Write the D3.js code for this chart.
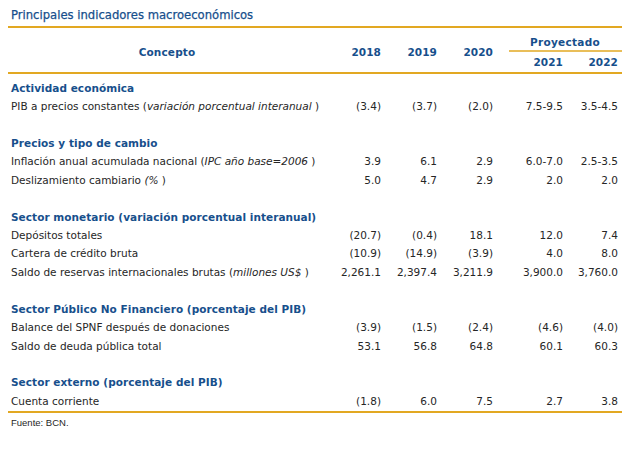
<!DOCTYPE html>
<html><head><meta charset="utf-8">
<script src="https://cdn.jsdelivr.net/npm/d3@7"></script>
<style>
html,body{margin:0;padding:0;background:#fff;}
svg{display:block;}
</style></head>
<body>
<script>
// ---- data ----
const title = "Principales indicadores macroeconómicos";
const headerConcept = "Concepto";
const historicYears = ["2018", "2019", "2020"];
const projectedYears = ["2021", "2022"];
const projectedLabel = "Proyectado";
const source = "Fuente: BCN.";

// row kinds: "s" = section heading, "r" = data row; label parts: [text, italic]
const rowSlots = [0, 1, 3, 4, 5, 7, 8, 9, 10, 12, 13, 14, 16, 17];
const rowKinds = ["s","r","s","r","r","s","r","r","r","s","r","r","s","r"];
const rowLabels = [
  [["Actividad económica", false]],
  [["PIB a precios constantes (", false], ["variación porcentual interanual", true], [" )", false]],
  [["Precios y tipo de cambio", false]],
  [["Inflación anual acumulada nacional (", false], ["IPC año base=2006", true], [" )", false]],
  [["Deslizamiento cambiario ", false], ["(%", true], [" )", false]],
  [["Sector monetario (variación porcentual interanual)", false]],
  [["Depósitos totales", false]],
  [["Cartera de crédito bruta", false]],
  [["Saldo de reservas internacionales brutas (", false], ["millones US$", true], [" )", false]],
  [["Sector Público No Financiero (porcentaje del PIB)", false]],
  [["Balance del SPNF después de donaciones", false]],
  [["Saldo de deuda pública total", false]],
  [["Sector externo (porcentaje del PIB)", false]],
  [["Cuenta corriente", false]]
];
const v2018 = [null,"(3.4)",null,"3.9","5.0",null,"(20.7)","(10.9)","2,261.1",null,"(3.9)","53.1",null,"(1.8)"];
const v2019 = [null,"(3.7)",null,"6.1","4.7",null,"(0.4)","(14.9)","2,397.4",null,"(1.5)","56.8",null,"6.0"];
const v2020 = [null,"(2.0)",null,"2.9","2.9",null,"18.1","(3.9)","3,211.9",null,"(2.4)","64.8",null,"7.5"];
const v2021 = [null,"7.5-9.5",null,"6.0-7.0","2.0",null,"12.0","4.0","3,900.0",null,"(4.6)","60.1",null,"2.7"];
const v2022 = [null,"3.5-4.5",null,"2.5-3.5","2.0",null,"7.4","8.0","3,760.0",null,"(4.0)","60.3",null,"3.8"];

// ---- layout ----
const W = 640, H = 450;
const BLUE = "#174f8c", TEXT = "#262626", GOLD = "#e2a822";
const FONT = "'DejaVu Sans', Verdana, sans-serif";

const svg = d3.select("body").append("svg").attr("width", W).attr("height", H);

const allYears = historicYears.concat(projectedYears);
const colX = d3.scaleOrdinal().domain(allYears).range([381, 437, 493, 563, 618]);
const yRow = d3.scaleLinear().domain([0, 17]).range([88, 401]);

const rows = rowSlots.map((s, i) => ({
  slot: s, kind: rowKinds[i], label: rowLabels[i],
  vals: [v2018[i], v2019[i], v2020[i], v2021[i], v2022[i]]
}));

// title
svg.append("text").attr("x", 11).attr("y", 15).attr("dy", "0.36em")
  .attr("font-family", FONT).attr("font-size", 11.6).attr("fill", BLUE)
  .attr("stroke", BLUE).attr("stroke-width", 0.25)
  .text(title);

// rules
const rules = [27, 73, 412];
svg.selectAll("line.rule").data(rules).join("line").attr("class", "rule")
  .attr("x1", 8).attr("x2", 622).attr("y1", d => d).attr("y2", d => d)
  .attr("stroke", GOLD).attr("stroke-width", 2);
svg.append("line").attr("x1", 509).attr("x2", 622).attr("y1", 51).attr("y2", 51)
  .attr("stroke", GOLD).attr("stroke-width", 1.6);

// header
const hdr = svg.append("g").attr("font-family", FONT).attr("font-weight", "bold")
  .attr("font-size", 10.5).attr("fill", BLUE);
hdr.append("text").attr("x", 167).attr("y", 52).attr("dy", "0.36em")
  .attr("text-anchor", "middle").attr("letter-spacing", 0.15).text(headerConcept);
hdr.selectAll("text.hy").data(historicYears).join("text").attr("class", "hy")
  .attr("x", d => colX(d)).attr("y", 52).attr("dy", "0.36em")
  .attr("text-anchor", "end").attr("letter-spacing", 0.1).text(d => d);
hdr.selectAll("text.py").data(projectedYears).join("text").attr("class", "py")
  .attr("x", d => colX(d)).attr("y", 62).attr("dy", "0.36em")
  .attr("text-anchor", "end").attr("letter-spacing", 0.1).text(d => d);
hdr.append("text").attr("x", 565).attr("y", 42).attr("dy", "0.36em")
  .attr("text-anchor", "middle").attr("letter-spacing", 0.3).text(projectedLabel);

// rows
const g = svg.append("g").attr("font-family", FONT);
const rg = g.selectAll("g.row").data(rows).join("g").attr("class", "row")
  .attr("transform", d => `translate(0,${yRow(d.slot)})`);

rg.append("text").attr("x", 11).attr("dy", "0.36em")
  .attr("font-size", 10.5)
  .attr("font-weight", d => d.kind === "s" ? "bold" : "normal")
  .attr("fill", d => d.kind === "s" ? BLUE : TEXT)
  .attr("letter-spacing", d => d.kind === "s" ? 0.05 : 0)
  .selectAll("tspan").data(d => d.label).join("tspan")
  .attr("font-style", d => d[1] ? "italic" : "normal")
  .text(d => d[0]);

rg.selectAll("text.val").data(d => d.vals.map((v, j) => ({v, k: allYears[j]})).filter(o => o.v !== null))
  .join("text").attr("class", "val")
  .attr("x", d => colX(d.k)).attr("dy", "0.36em").attr("text-anchor", "end")
  .attr("font-size", 10.5).attr("fill", TEXT)
  .text(d => d.v);

// source
svg.append("text").attr("x", 11).attr("y", 423).attr("dy", "0.36em")
  .attr("font-family", "'Liberation Sans', Arial, sans-serif").attr("font-size", 9.5)
  .attr("fill", TEXT).text(source);
</script>
</body></html>
